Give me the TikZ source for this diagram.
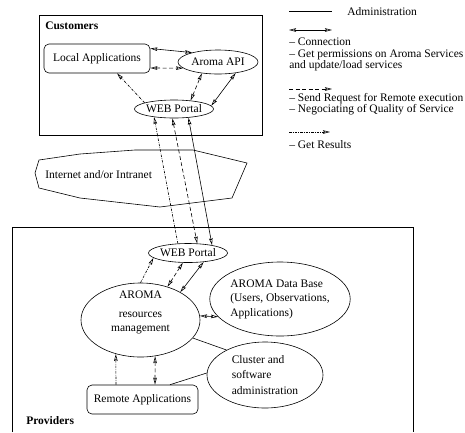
\documentclass[tikz,border=0pt]{standalone}
\usepackage{fontspec}
\setmainfont{Liberation Serif}
\usetikzlibrary{arrows.meta,shapes.geometric,positioning}

\begin{document}
\begin{tikzpicture}[x=1pt,y=-1pt,line width=0.6pt,
  font=\fontsize{11.5}{13}\selectfont,
  >={Stealth[open,length=7pt,width=3.6pt,inset=1pt]},
  service/.style={draw,ellipse,inner sep=0pt},
  appbox/.style={draw,rounded corners=5pt,inner sep=0pt,minimum height=29pt},
  request/.style={dash pattern=on 4pt off 2.5pt},
  result/.style={dash pattern=on 2.5pt off 1.2pt on 0.6pt off 1.2pt},
  title/.style={anchor=west,inner sep=0pt,font=\fontsize{11.5}{13}\selectfont\bfseries},
  legendtext/.style={anchor=west,inner sep=0pt,align=left,font=\fontsize{11.5}{11.2}\selectfont}]
\useasboundingbox (0,0) rectangle (465,432);

% customers
\draw (39,15) rectangle (262,135);
\node[title] (customers) at (45,26) {Customers};
\node[appbox,minimum width=106pt] (localapp) at (97,58.5) {Local Applications};
\node[service,minimum width=80pt,minimum height=24pt] (aromaapi) at (218,62) {Aroma API};
\node[service,minimum width=78pt,minimum height=18pt] (webtop) at (174,109) {WEB Portal};

% internet
\draw (35,173) -- (39,160) -- (80,154) -- (135,150) -- (193,150) -- (247,163)
  -- (232,198) -- (160,207) -- (80,198) -- (39,188) -- cycle;
\node[legendtext] (internet) at (45,175) {Internet and/or Intranet};

% providers
\draw (12,432) -- (12,227) -- (413,227) -- (413,432);
\node[title] (providers) at (26,421) {Providers};
\node[service,minimum width=77pt,minimum height=19pt] (webbot) at (188,253) {WEB Portal};
\node[service,minimum width=119pt,minimum height=74pt] (aroma) at (140.5,320) {};
\node[align=center,inner sep=0pt,font=\fontsize{11.5}{14}\selectfont] (aromatext) at (140.5,312)
  {AROMA\\[5pt] resources\\ management};
\node[service,align=left,minimum width=134pt,minimum height=74pt,
  font=\fontsize{11.5}{14.5}\selectfont] (database) at (280,299)
  {AROMA Data Base\\(Users, Observations,\\Applications)};
\node[service,align=left,minimum width=116pt,minimum height=66pt,
  font=\fontsize{11.5}{15.5}\selectfont] (cluster) at (265,375)
  {Cluster and\\software\\administration};
\node[appbox,minimum width=111pt] (remote) at (142.5,399.5) {Remote Applications};

% connectors, customers side
\draw[<->] ([yshift=10pt]localapp.east) -- (aromaapi.160);
\draw[<->,request] ([yshift=-9.5pt]localapp.east) -- (aromaapi.190);
\draw[<->,request] (webtop.27) -- (aromaapi.215);
\draw[<->] (webtop.5) -- (aromaapi.-32);
\draw[->,result] (webtop.168) -- ([xshift=20pt]localapp.south);

% through the net
\draw[->,result] (webbot.137) -- (webtop.202);
\draw[<->,request] (webtop.260) -- (webbot.46);
\draw[<->] (webtop.-31) -- (webbot.18);

% connectors, providers side
\draw[->,result] (aroma.north) -- (webbot.188);
\draw[<->,request] (aroma.51) -- (webbot.242);
\draw[<->] (aroma.35) -- (webbot.-30);
\draw[<->] (database.196) -- (aroma.4);
\draw (aroma.-19) -- (cluster.147);
\draw ([xshift=27.5pt]remote.north) -- (cluster.178);
\draw[->,result] ([xshift=-26.5pt]remote.north) -- (aroma.234);
\draw[<->,request] ([xshift=12.5pt]remote.north) -- (aroma.-68);

% legend
\coordinate (admA) at (289,11);
\coordinate (admB) at (332,11);
\draw (admA) -- (admB);
\node[legendtext] (admtext) at (347,12) {Administration};
\coordinate (conA) at (289,30);
\coordinate (conB) at (332,30);
\draw[<->] (conA) -- (conB);
\node[legendtext] (context) at (289,54.5)
  {-- Connection\\-- Get permissions on Aroma Services\\and update/load services};
\coordinate (reqA) at (289,89);
\coordinate (reqB) at (332,89);
\draw[->,request] (reqA) -- (reqB);
\node[legendtext] (reqtext) at (289,104.5)
  {-- Send Request for Remote execution\\-- Negociating of Quality of Service};
\coordinate (resA) at (289,132);
\coordinate (resB) at (330,132);
\draw[->,result] (resA) -- (resB);
\node[legendtext] (restext) at (289,145) {-- Get Results};
\end{tikzpicture}
\end{document}
